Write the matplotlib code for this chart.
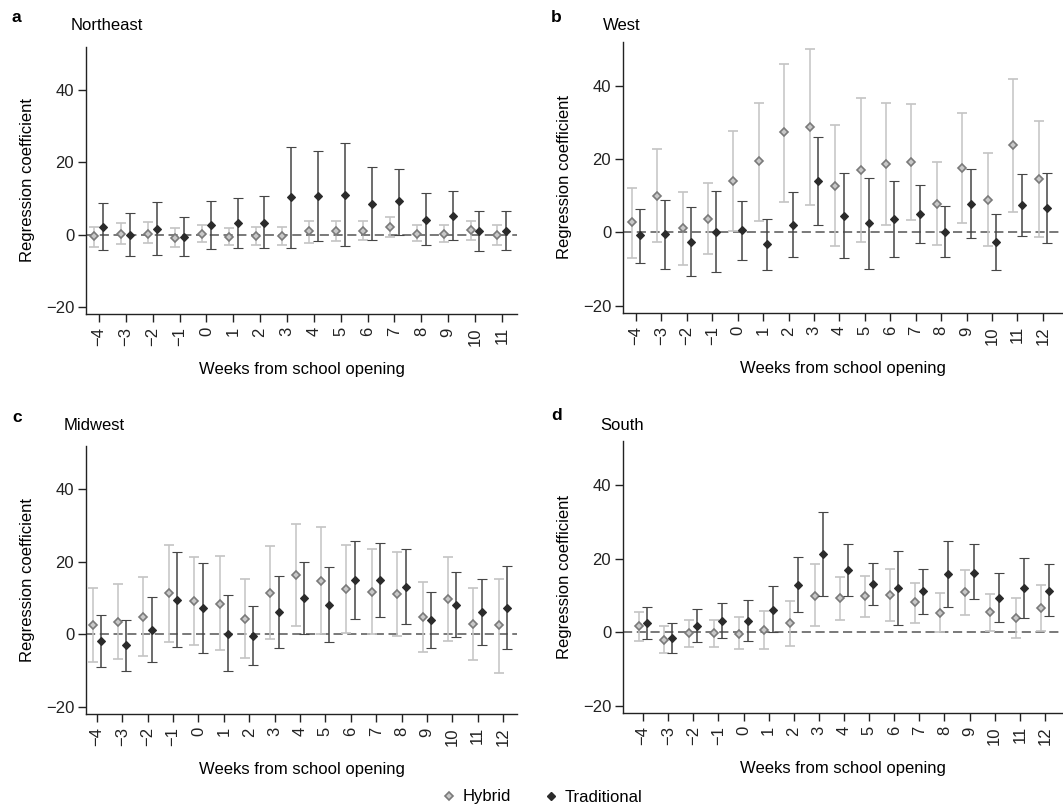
import matplotlib
matplotlib.use('Agg')
import matplotlib.pyplot as plt
import numpy as np

plt.rcParams['font.family'] = ['Liberation Sans', 'DejaVu Sans']
plt.rcParams['font.size'] = 12

# weeks from school opening
weeks_ne = np.arange(-4, 12)
weeks = np.arange(-4, 13)

# Northeast
ne_hyb = [-0.5, 0.3, 0.3, -0.8, 0.3, -0.7, -0.4, -0.4, 1.0, 1.0, 1.0, 2.1, 0.3, 0.3, 1.3, -0.1]
ne_hyb_lo = [-3.4, -2.6, -2.2, -3.3, -2.1, -3.0, -2.8, -2.8, -2.2, -1.7, -1.6, -0.6, -1.9, -2.1, -1.4, -2.8]
ne_hyb_hi = [2.1, 3.1, 3.4, 1.8, 2.8, 1.8, 2.0, 2.2, 3.9, 3.7, 3.7, 4.9, 2.8, 2.8, 3.7, 2.6]
ne_trad = [2.2, -0.1, 1.6, -0.6, 2.7, 3.1, 3.3, 10.4, 10.6, 11.1, 8.6, 9.2, 4.1, 5.2, 0.9, 1.0]
ne_trad_lo = [-4.4, -5.9, -5.6, -6.0, -3.9, -3.8, -3.8, -3.6, -1.9, -3.1, -1.4, 0.0, -3.0, -1.6, -4.6, -4.4]
ne_trad_hi = [8.7, 6.0, 9.0, 4.9, 9.3, 10.1, 10.6, 24.2, 23.1, 25.4, 18.8, 18.2, 11.4, 12.1, 6.6, 6.6]

# West
w_hyb = [2.8, 10.0, 1.1, 3.8, 14.1, 19.4, 27.3, 28.9, 12.8, 17.0, 18.6, 19.2, 7.8, 17.5, 8.8, 24.0, 14.7]
w_hyb_lo = [-6.9, -2.7, -8.8, -5.8, 0.5, 3.1, 8.4, 7.6, -3.7, -2.5, 2.0, 3.5, -3.5, 2.6, -3.7, 5.7, -1.2]
w_hyb_hi = [12.2, 22.9, 11.0, 13.6, 27.8, 35.4, 46.0, 50.0, 29.2, 36.6, 35.4, 35.1, 19.2, 32.5, 21.6, 42.0, 30.4]
w_trad = [-0.8, -0.5, -2.5, 0.2, 0.6, -3.2, 2.0, 14.1, 4.6, 2.5, 3.6, 5.0, 0.2, 7.7, -2.6, 7.5, 6.7]
w_trad_lo = [-8.3, -10.1, -11.9, -10.8, -7.5, -10.3, -6.8, 2.0, -6.9, -9.9, -6.8, -2.9, -6.6, -1.6, -10.3, -1.1, -2.9]
w_trad_hi = [6.5, 8.8, 6.9, 11.2, 8.6, 3.8, 11.0, 26.1, 16.3, 14.9, 14.0, 13.0, 7.2, 17.2, 5.1, 16.0, 16.2]

# Midwest
mw_hyb = [2.5, 3.4, 4.7, 11.3, 9.1, 8.4, 4.2, 11.5, 16.5, 14.7, 12.6, 11.8, 11.0, 4.7, 9.7, 2.9, 2.5]
mw_hyb_lo = [-7.7, -6.8, -6.1, -2.1, -2.9, -4.4, -6.6, -1.3, 2.4, 0.0, 0.4, 0.0, -0.6, -4.8, -1.8, -7.1, -10.7]
mw_hyb_hi = [12.8, 13.8, 15.8, 24.7, 21.3, 21.6, 15.2, 24.3, 30.6, 29.5, 24.8, 23.5, 22.6, 14.5, 21.4, 12.8, 15.4]
mw_trad = [-1.8, -3.0, 1.3, 9.6, 7.3, 0.2, -0.4, 6.3, 10.1, 8.1, 15.0, 15.0, 13.2, 4.0, 8.1, 6.3, 7.4]
mw_trad_lo = [-9.0, -10.0, -7.7, -3.5, -5.1, -10.1, -8.4, -3.7, 0.0, -2.0, 4.2, 4.7, 2.9, -3.9, -0.7, -3.0, -4.1]
mw_trad_hi = [5.4, 3.9, 10.2, 22.6, 19.8, 10.8, 7.8, 16.1, 20.0, 18.5, 25.8, 25.3, 23.5, 11.8, 17.2, 15.2, 19.0]

# South
s_hyb = [1.6, -2.1, -0.3, -0.3, -0.4, 0.6, 2.6, 9.9, 9.2, 9.7, 10.2, 8.2, 5.2, 10.8, 5.4, 3.9, 6.5]
s_hyb_lo = [-2.3, -5.6, -4.1, -4.1, -4.5, -4.5, -3.7, 1.8, 3.4, 4.1, 3.1, 2.6, 0.0, 4.6, 0.4, -1.5, 0.4]
s_hyb_hi = [5.5, 1.6, 3.3, 3.3, 4.2, 5.8, 8.6, 18.5, 15.0, 15.2, 17.3, 13.5, 10.6, 16.8, 10.5, 9.2, 12.8]
s_trad = [2.5, -1.5, 1.8, 3.1, 3.1, 6.1, 12.9, 21.3, 17.0, 13.0, 12.1, 11.1, 15.7, 16.2, 9.2, 12.1, 11.2]
s_trad_lo = [-1.9, -5.6, -2.6, -1.7, -2.4, 0.0, 5.6, 9.7, 9.9, 7.3, 2.0, 5.0, 6.9, 8.9, 2.7, 3.9, 4.3]
s_trad_hi = [6.8, 2.6, 6.3, 7.8, 8.7, 12.5, 20.4, 32.6, 24.1, 18.7, 22.1, 17.2, 24.7, 24.0, 16.1, 20.2, 18.5]

W, H = 1063, 809
fig = plt.figure(figsize=(W / 100, H / 100), dpi=100)


def px_axes(left, top, right, bottom):
    return fig.add_axes([left / W, 1 - bottom / H, (right - left) / W, (bottom - top) / H])


def panel(ax, x, hyb, hlo, hhi, trad, tlo, thi, xlim):
    x = np.asarray(x)
    hyb = np.asarray(hyb); trad = np.asarray(trad)
    ax.axhline(0, color='#555555', lw=1.1, ls=(0, (6, 3)), zorder=1)
    ax.errorbar(x - 0.17, hyb, yerr=[hyb - np.asarray(hlo), np.asarray(hhi) - hyb],
                fmt='D', ms=3.6, mfc='#c8c8c8', mec='#7a7a7a', mew=1.2,
                ecolor='#c4c4c4', elinewidth=1.1, capsize=3.5, capthick=1.1, zorder=2)
    ax.errorbar(x + 0.16, trad, yerr=[trad - np.asarray(tlo), np.asarray(thi) - trad],
                fmt='D', ms=4.3, mfc='#2b2b2b', mec='#2b2b2b', mew=0.8,
                ecolor='#454545', elinewidth=1.1, capsize=3.5, capthick=1.1, zorder=3)
    ax.set_xlim(*xlim)
    ax.set_ylim(-22, 52)
    ax.set_yticks([-20, 0, 20, 40])
    ax.set_xticks(x)
    ax.set_xticklabels([str(v).replace('-', '\u2212') for v in x], rotation=90)
    for s in ['top', 'right']:
        ax.spines[s].set_visible(False)
    for s in ['left', 'bottom']:
        ax.spines[s].set_linewidth(1.0)
        ax.spines[s].set_color('#222222')
    ax.tick_params(direction='out', length=5.5, width=1, colors='#222222', labelsize=12, pad=3)
    ax.tick_params(axis='x', pad=4)
    ax.set_ylabel('Regression coefficient', fontsize=12, labelpad=8)
    ax.set_xlabel('Weeks from school opening', fontsize=12, labelpad=11)


axa = px_axes(86, 47, 517, 314)
panel(axa, weeks_ne, ne_hyb, ne_hyb_lo, ne_hyb_hi, ne_trad, ne_trad_lo, ne_trad_hi, (-4.48, 11.56))
axb = px_axes(623, 42, 1063, 313)
panel(axb, weeks, w_hyb, w_hyb_lo, w_hyb_hi, w_trad, w_trad_lo, w_trad_hi, (-4.51, 12.79))
axc = px_axes(86, 446, 517, 714)
panel(axc, weeks, mw_hyb, mw_hyb_lo, mw_hyb_hi, mw_trad, mw_trad_lo, mw_trad_hi, (-4.43, 12.55))
axd = px_axes(623, 441, 1063, 713)
panel(axd, weeks, s_hyb, s_hyb_lo, s_hyb_hi, s_trad, s_trad_lo, s_trad_hi, (-4.8, 12.72))


def ftext(x, y, s, **kw):
    fig.text(x / W, 1 - y / H, s, va='center', **kw)


ftext(12, 18, 'a', fontsize=12.5, fontweight='bold')
ftext(71, 26, 'Northeast', fontsize=12)
ftext(551, 18, 'b', fontsize=12.5, fontweight='bold')
ftext(603, 26, 'West', fontsize=12)
ftext(12, 418, 'c', fontsize=12.5, fontweight='bold')
ftext(64, 426, 'Midwest', fontsize=12)
ftext(551, 416, 'd', fontsize=12.5, fontweight='bold')
ftext(600, 426, 'South', fontsize=12)

# legend at bottom
h1 = plt.Line2D([], [], ls='none', marker='D', ms=3.6, mfc='#c8c8c8', mec='#7a7a7a', mew=1.2)
h2 = plt.Line2D([], [], ls='none', marker='D', ms=3.8, mfc='#2b2b2b', mec='#2b2b2b')
fig.legend([h1, h2], ['Hybrid', 'Traditional'], loc='center', bbox_to_anchor=(543 / W, 1 - 797 / H),
           ncol=2, frameon=False, fontsize=12, handlelength=0.6, handletextpad=0.5, columnspacing=2.1)

fig.savefig('out.png', dpi=100)
